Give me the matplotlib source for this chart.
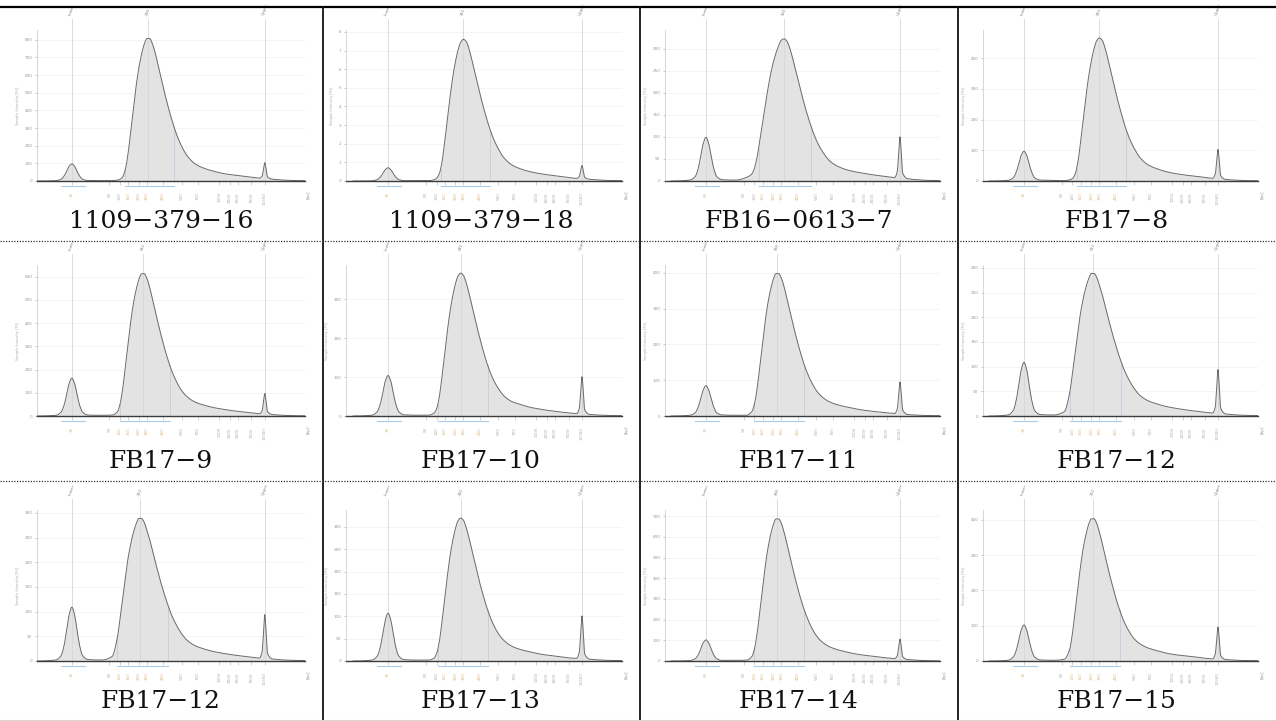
import numpy as np
import matplotlib
matplotlib.use("Agg")
import matplotlib.pyplot as plt
from matplotlib.lines import Line2D

# ---------------- data ----------------
labels = ["1109−379−16", "1109−379−18", "FB16−0613−7", "FB17−8",
          "FB17−9", "FB17−10", "FB17−11", "FB17−12",
          "FB17−12", "FB17−13", "FB17−14", "FB17−15"]

# migration position (arbitrary units) shared by every trace
X = [0, 7, 9, 10, 11, 12, 13, 14, 15, 16, 17, 19, 24,
     28, 30, 31, 32, 33, 34, 35, 36, 37, 38, 39, 40, 41, 42, 43, 44, 45, 46, 47, 48, 49, 50,
     52, 54, 56, 59, 62, 66, 70, 75, 80, 83,
     84, 84.6, 85, 85.4, 86, 88, 100]

y_1109_379_16 = [0, 2, 10, 26, 53, 84, 97, 84, 53, 26, 10, 3, 2,
                 2, 5, 10, 24, 69, 158, 284, 413, 539, 640, 717, 774, 806, 807, 780, 731, 669, 603, 539, 475, 417, 362,
                 267, 196, 143, 97, 74, 55, 41, 31, 22, 16,
                 29, 78, 104, 77, 24, 10, 2]
y_1109_379_18 = [0, 0.01, 0.08, 0.19, 0.39, 0.61, 0.71, 0.61, 0.39, 0.19, 0.08, 0.02, 0.02,
                 0.02, 0.06, 0.14, 0.38, 0.99, 2.05, 3.27, 4.48, 5.55, 6.38, 7.03, 7.45, 7.6, 7.49, 7.11, 6.57, 5.97, 5.36, 4.75, 4.18, 3.65, 3.15,
                 2.32, 1.71, 1.25, 0.86, 0.66, 0.49, 0.38, 0.28, 0.19, 0.14,
                 0.24, 0.63, 0.83, 0.62, 0.2, 0.09, 0.02]
y_FB16_0613_7 = [0, 2, 10, 26, 54, 85, 99, 85, 54, 26, 10, 3, 2,
                 8, 16, 29, 55, 92, 130, 171, 209, 242, 269, 290, 307, 319, 322, 317, 303, 282, 258, 233, 209, 185, 163,
                 124, 92, 69, 45, 33, 24, 19, 14, 10, 8,
                 22, 72, 100, 72, 18, 5, 1]
y_FB17_8 = [0, 2, 10, 26, 53, 84, 97, 84, 53, 26, 10, 3, 2,
            1, 4, 8, 23, 61, 126, 200, 275, 340, 391, 431, 457, 466, 459, 436, 403, 366, 329, 291, 256, 224, 193,
            142, 105, 77, 53, 41, 30, 23, 17, 12, 9,
            23, 74, 103, 74, 18, 5, 1]
y_FB17_9 = [0, 3, 17, 43, 89, 141, 163, 141, 89, 43, 17, 4, 3,
            4, 18, 52, 120, 215, 314, 409, 486, 544, 587, 612, 613, 592, 555, 508, 458, 409, 361, 317, 275, 237, 203,
            149, 109, 83, 60, 48, 36, 28, 20, 14, 10,
            23, 72, 97, 71, 19, 6, 1]
y_FB17_10 = [0, 2, 11, 28, 57, 90, 104, 90, 57, 28, 11, 3, 2,
             2, 7, 18, 48, 99, 158, 217, 268, 308, 339, 360, 367, 361, 343, 317, 288, 259, 229, 202, 176, 152, 130,
             95, 70, 52, 37, 30, 22, 17, 12, 8, 6,
             20, 72, 101, 72, 16, 4, 1]
y_FB17_11 = [0, 2, 9, 23, 47, 73, 85, 73, 47, 23, 9, 3, 2,
             2, 12, 34, 78, 140, 204, 266, 316, 354, 382, 398, 398, 385, 361, 330, 298, 266, 235, 206, 179, 154, 132,
             97, 71, 54, 39, 31, 24, 18, 13, 9, 7,
             20, 69, 95, 69, 17, 4, 1]
y_FB17_12 = [0, 2, 11, 29, 60, 94, 109, 94, 60, 29, 11, 3, 2,
             9, 48, 87, 129, 171, 209, 238, 261, 278, 289, 289, 281, 265, 247, 226, 204, 184, 163, 145, 127, 111, 96,
             73, 55, 42, 31, 25, 19, 15, 11, 8, 6,
             19, 68, 94, 68, 16, 4, 1]
y_FB17_12b = [0, 2, 11, 29, 60, 94, 109, 94, 60, 29, 11, 3, 2,
              9, 48, 87, 129, 171, 209, 238, 261, 278, 289, 289, 281, 265, 247, 226, 204, 184, 163, 145, 127, 111, 96,
              73, 55, 42, 31, 25, 19, 15, 11, 8, 6,
              19, 68, 94, 68, 16, 4, 1]
y_FB17_13 = [0, 2, 11, 28, 59, 92, 107, 92, 59, 28, 11, 3, 2,
             2, 6, 16, 42, 86, 138, 189, 234, 269, 296, 314, 320, 315, 299, 277, 251, 226, 200, 176, 154, 133, 114,
             83, 61, 46, 33, 26, 20, 15, 11, 7, 6,
             20, 72, 101, 72, 16, 4, 1]
y_FB17_14 = [0, 2, 11, 27, 56, 88, 102, 88, 56, 27, 11, 3, 3,
             4, 21, 59, 135, 242, 352, 459, 545, 611, 659, 687, 687, 664, 622, 570, 514, 459, 405, 355, 308, 266, 228,
             167, 122, 93, 68, 54, 41, 31, 23, 15, 12,
             26, 78, 106, 77, 21, 7, 1]
y_FB17_15 = [0, 2, 11, 27, 56, 88, 102, 88, 56, 27, 11, 3, 2,
             5, 34, 79, 142, 207, 269, 320, 358, 387, 403, 403, 390, 365, 335, 302, 269, 238, 209, 181, 156, 134, 114,
             84, 62, 49, 37, 30, 22, 17, 13, 8, 6,
             20, 69, 96, 69, 16, 4, 1]

series = [y_1109_379_16, y_1109_379_18, y_FB16_0613_7, y_FB17_8,
          y_FB17_9, y_FB17_10, y_FB17_11, y_FB17_12,
          y_FB17_12b, y_FB17_13, y_FB17_14, y_FB17_15]

# y-axis ranges: (last tick, tick step, axis top)
y_tick_max = [800, 8, 300, 400, 600, 300, 400, 300, 300, 300, 700, 400]
y_tick_step = [100, 1, 50, 100, 100, 100, 100, 50, 50, 50, 100, 100]
y_top = [855, 8.1, 342, 492, 650, 388, 422, 306, 306, 338, 730, 428]

# main-peak position, region edges and peak size label
peak_pos = [41.5, 41, 42, 41, 39.5, 40, 39.5, 38.5, 38.5, 40, 39.5, 38.5]
region_lo = [33, 32.5, 32.5, 32.5, 31, 31.5, 31, 30, 30, 31.5, 31, 30]
region_hi = [51, 51, 52, 51, 49.5, 50, 49.5, 49, 49, 50, 49.5, 48.5]
peak_bp = ["294", "301", "324", "303", "262", "281", "266", "252", "252", "281", "266", "252"]

# ladder (bp) drawn under the x axis
ladder_pos = [13, 27, 31, 34, 38, 41, 47, 54, 60, 68, 72, 75, 80, 85]
ladder_bp = ["35", "50", "100", "150", "200", "300", "400", "500", "700", "1000", "2000", "3000", "7000", "10380"]
lower_marker, upper_marker = 13, 85


def pchip(x, y, xn):
    """shape preserving cubic through the listed points (drawing only)"""
    x = np.asarray(x, float)
    y = np.asarray(y, float)
    h = np.diff(x)
    d = np.diff(y) / h
    m = np.zeros_like(y)
    for k in range(1, len(x) - 1):
        if d[k - 1] * d[k] > 0:
            w1 = 2 * h[k] + h[k - 1]
            w2 = h[k] + 2 * h[k - 1]
            m[k] = (w1 + w2) / (w1 / d[k - 1] + w2 / d[k])
    idx = np.clip(np.searchsorted(x, xn) - 1, 0, len(x) - 2)
    t = (xn - x[idx]) / h[idx]
    h00 = 2 * t ** 3 - 3 * t ** 2 + 1
    h10 = t ** 3 - 2 * t ** 2 + t
    h01 = -2 * t ** 3 + 3 * t ** 2
    h11 = t ** 3 - t ** 2
    return h00 * y[idx] + h10 * h[idx] * m[idx] + h01 * y[idx + 1] + h11 * h[idx] * m[idx + 1]


# ---------------- layout ----------------
W, H = 1276, 721
fig = plt.figure(figsize=(W / 100, H / 100), dpi=100)

col_left = [37, 346, 665, 983]
col_right = [305, 622.4, 940.4, 1258.4]
col_x0 = [0, -2.6, -2.2, -2.2]
row_top = [30, 265, 510]
row_base = [181, 416, 661]
label_x = [161, 481, 799, 1117]
label_y = [221, 461, 701]

line_c = "#6a6a6a"
fill_c = "#e3e3e3"
xs = np.linspace(0, 100, 1500)

for i in range(12):
    r, c = divmod(i, 4)
    l, rr = col_left[c], col_right[c]
    t, b = row_top[r], row_base[r]
    ax = fig.add_axes([l / W, 1 - b / H, (rr - l) / W, (b - t) / H])
    ys = np.array(series[i], dtype=float)
    ysm = np.clip(pchip(X, ys, xs), 0, None)
    top = y_top[i]
    ax.set_xlim(col_x0[c], 100)
    ax.set_ylim(0, top)

    # faint horizontal grid
    ticks = np.arange(0, y_tick_max[i] + y_tick_step[i] * 0.5, y_tick_step[i])
    for tv in ticks[1:]:
        ax.axhline(tv, color="#f3f3f3", lw=0.6, zorder=0)

    ax.plot([col_x0[c], 0], [0, 0], color=line_c, lw=0.7, zorder=3)
    ax.fill_between(xs, 0, ysm, color=fill_c, zorder=1, lw=0)
    ax.plot(xs, ysm, color=line_c, lw=0.7, zorder=3)

    # marker / peak lines with rotated labels
    for xv, txt in [(lower_marker, "Lower"), (peak_pos[i], peak_bp[i]), (upper_marker, "Upper")]:
        ax.plot([xv, xv], [0, top * 1.07], color="#d4d6dc", lw=0.6, zorder=2, clip_on=False)
        ax.text(xv, top * 1.09, txt, rotation=70, fontsize=3, color="#888888",
                ha="center", va="bottom", clip_on=False)

    # region boundaries
    lo, hi = region_lo[i], region_hi[i]
    for xv in [lo, hi]:
        ax.plot([xv, xv], [0, float(np.interp(xv, xs, ysm))], color="#c6d0e6", lw=0.7, zorder=2)
    ax.plot([9, 18], [-top * 0.035] * 2, color="#a9cbe8", lw=0.8, clip_on=False)
    ax.plot([lo, hi], [-top * 0.035] * 2, color="#a9cbe8", lw=0.8, clip_on=False)

    # axes styling
    for s in ["top", "right"]:
        ax.spines[s].set_visible(False)
    ax.spines["left"].set_color("#d0d0d0")
    ax.spines["left"].set_linewidth(0.6)
    ax.spines["bottom"].set_color("#3c3c3c")
    ax.spines["bottom"].set_linewidth(1.0)
    ax.spines["bottom"].set_zorder(4)

    ax.set_yticks(ticks)
    ax.set_yticklabels([("%g" % v) for v in ticks])
    ax.tick_params(axis="y", labelsize=3, colors="#999999", length=1.5, width=0.4, pad=2)
    ax.set_xticks(ladder_pos)
    ax.set_xticklabels(ladder_bp, rotation=90)
    ax.tick_params(axis="x", labelsize=3, colors="#b0b0b0", length=3, width=0.4, pad=5)
    for tl, xv in zip(ax.get_xticklabels(), ladder_pos):
        if xv == lower_marker or (lo <= xv <= hi):
            tl.set_color("#e0b98a")
    ax.set_ylabel("Sample Intensity [FU]", fontsize=2.5, color="#aaaaaa", labelpad=3)
    ax.text(101.5, -top * 0.06, "[bp]", rotation=90, fontsize=3, color="#999999",
            ha="center", va="top", clip_on=False)

    fig.text(label_x[c] / W, 1 - label_y[r] / H, labels[i], fontsize=18,
             family="DejaVu Serif", ha="center", va="center", color="#111111")

# table rules
fig.add_artist(Line2D([0, 1], [1 - 7 / H] * 2, color="black", lw=1.6))
for xv in [323, 640, 958]:
    fig.add_artist(Line2D([xv / W] * 2, [1 - 7 / H, 0], color="#111111", lw=1.3))
for yv in [241, 481]:
    fig.add_artist(Line2D([0, 1], [1 - yv / H] * 2, color="#333333", lw=0.9, linestyle=(0, (1, 1.2))))
fig.add_artist(Line2D([0, 1], [1 - 719.5 / H] * 2, color="#d8d8d8", lw=0.8))

fig.savefig("out.png", dpi=100, facecolor="white")
